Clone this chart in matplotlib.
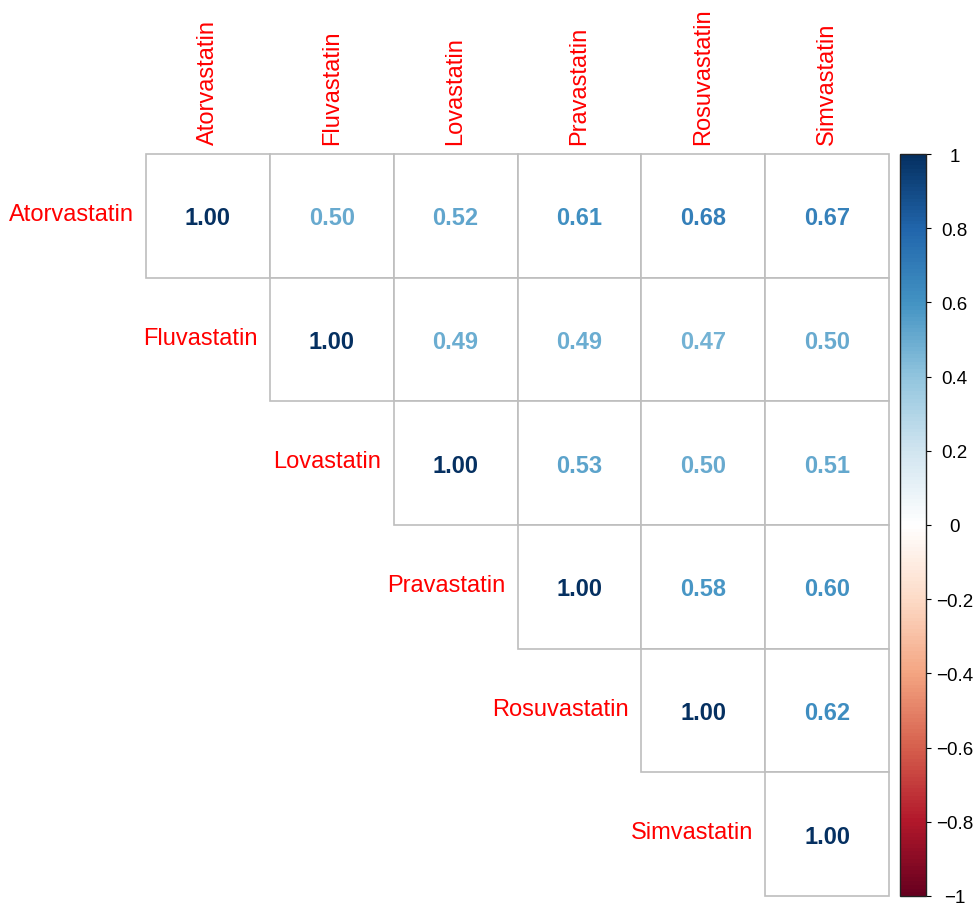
import matplotlib
matplotlib.use("Agg")
import matplotlib.pyplot as plt
import numpy as np
from matplotlib.colors import LinearSegmentedColormap, Normalize
from matplotlib.patches import Rectangle
from matplotlib.cm import ScalarMappable

drugs = ["Atorvastatin", "Fluvastatin", "Lovastatin", "Pravastatin", "Rosuvastatin", "Simvastatin"]

# upper triangle of the correlation matrix, row by row
row_atorva = [1.00, 0.50, 0.52, 0.61, 0.68, 0.67]
row_fluva = [1.00, 0.49, 0.49, 0.47, 0.50]
row_lova = [1.00, 0.53, 0.50, 0.51]
row_prava = [1.00, 0.58, 0.60]
row_rosuva = [1.00, 0.62]
row_simva = [1.00]
rows = [row_atorva, row_fluva, row_lova, row_prava, row_rosuva, row_simva]

cbar_ticks = [-1, -0.8, -0.6, -0.4, -0.2, 0, 0.2, 0.4, 0.6, 0.8, 1]

rdbu = ["#67001F", "#B2182B", "#D6604D", "#F4A582", "#FDDBC7", "#FFFFFF",
        "#D1E5F0", "#92C5DE", "#4393C3", "#2166AC", "#053061"]
cmap = LinearSegmentedColormap.from_list("rdbu_corr", rdbu, N=200)
norm = Normalize(-1, 1)

plt.rcParams["font.family"] = ["Liberation Sans", "DejaVu Sans"]

W, H = 977, 904
fig = plt.figure(figsize=(W / 100, H / 100), dpi=100)
x0, x1, y0, y1 = 146, 889, 155, 897
ax = fig.add_axes([x0 / W, 1 - y1 / H, (x1 - x0) / W, (y1 - y0) / H])
ax.set_xlim(0, 6)
ax.set_ylim(6, 0)
ax.axis("off")

for i, vals in enumerate(rows):
    for k, v in enumerate(vals):
        j = i + k
        ax.add_patch(Rectangle((j, i), 1, 1, facecolor="white", edgecolor="#BEBEBE",
                               linewidth=1.2, clip_on=False))
        ax.text(j + 0.5, i + 0.515, f"{v:.2f}", ha="center", va="center",
                fontsize=17, fontweight="bold", color=cmap(norm(v)))

# row labels sit left of the diagonal cell, column labels above the top row
for i, name in enumerate(drugs):
    ax.text(i - 0.1, i + 0.485, name, ha="right", va="center", fontsize=17,
            color="red", clip_on=False)
    ax.text(i + 0.5, -0.08, name, ha="center", va="bottom", rotation=90,
            fontsize=17, color="red", clip_on=False)

cax = fig.add_axes([900 / W, 1 - y1 / H, 26 / W, (y1 - y0) / H])
sm = ScalarMappable(norm=norm, cmap=cmap)
cb = fig.colorbar(sm, cax=cax, ticks=cbar_ticks)
cb.outline.set_linewidth(1.0)
cb.outline.set_edgecolor("#222222")
cb.ax.set_yticklabels([("%g" % t).replace("-", "\u2212") for t in cbar_ticks])
cb.ax.tick_params(labelsize=13.5, length=3.6, width=0.8, pad=17)
for lab in cb.ax.get_yticklabels():
    lab.set_horizontalalignment("center")

fig.savefig("out.png", dpi=100)
